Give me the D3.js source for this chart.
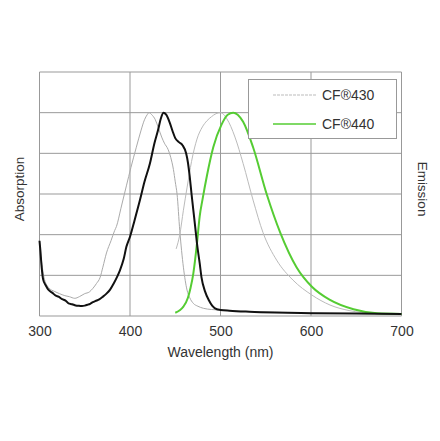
<!DOCTYPE html>
<html><head><meta charset="utf-8">
<script src="https://cdn.jsdelivr.net/npm/d3@7"></script>
<style>body{margin:0;background:#fff}</style>
</head><body>
<svg id="c" width="440" height="441"></svg>
<script>
const xTicks = [300, 400, 500, 600, 700];
const legendLabels = ["CF®430", "CF®440"];

// CF430 absorption (gray)
const abs430X = [300,302,305,310,317,322,328,333,339,344,350,355,359,363,367,370,374,379,383,385,390,396,401,407,412,416,419,421,424,428,431,435,438,442,445,448,450,452,455,459,463,466,470,475,481,490,496,520,560,620,700];
const abs430Y = [0.37,0.28,0.19,0.14,0.12,0.11,0.10,0.095,0.087,0.095,0.11,0.118,0.136,0.16,0.19,0.24,0.31,0.37,0.42,0.44,0.53,0.64,0.73,0.83,0.91,0.965,0.99,1.0,0.99,0.965,0.93,0.88,0.85,0.82,0.78,0.72,0.66,0.60,0.42,0.24,0.128,0.09,0.062,0.048,0.038,0.032,0.03,0.024,0.018,0.013,0.01];
// CF440 absorption (black)
const abs440X = [300,301,302,304,307,310,314,318,321,325,329,332,336,340,344,347,350,353,356,359,362,366,370,374,378,382,386,389,393,396,400,405,411,416,422,427,431,434,437,440,444,447,450,454,458,462,464,466,468,470,472,474,477,479,483,487,491,496,500,510,532,560,600,650,700];
const abs440Y = [0.37,0.32,0.26,0.18,0.15,0.128,0.115,0.10,0.095,0.083,0.075,0.062,0.058,0.052,0.05,0.049,0.051,0.055,0.06,0.068,0.074,0.082,0.095,0.11,0.13,0.16,0.195,0.226,0.28,0.34,0.39,0.47,0.57,0.66,0.75,0.85,0.915,0.97,1.0,0.99,0.95,0.91,0.875,0.855,0.84,0.80,0.755,0.685,0.60,0.52,0.44,0.357,0.26,0.19,0.12,0.079,0.05,0.033,0.03,0.026,0.021,0.017,0.014,0.012,0.01];
// CF430 emission (gray)
const em430X = [451,455,459,463,468,474,480,485,490,495,500,507,516,525,536,547,562,580,601,621,643,669,700];
const em430Y = [0.33,0.40,0.52,0.63,0.76,0.87,0.93,0.96,0.98,0.995,1.0,0.97,0.88,0.75,0.57,0.41,0.275,0.177,0.103,0.054,0.026,0.013,0.006];
// CF440 emission (green)
const em440X = [450,455,459,464,467,470,474,477,480,485,492,501,508,514,519,525,536,551,566,584,601,621,647,673,700];
const em440Y = [0.016,0.028,0.046,0.09,0.14,0.21,0.357,0.49,0.57,0.69,0.83,0.94,0.99,1.0,0.99,0.955,0.83,0.60,0.41,0.24,0.144,0.079,0.033,0.013,0.01];

const svg = d3.select("#c");
const L = 39.5, R = 401.5, T = 72, B = 316;
const FONT = "Arial, Liberation Sans, sans-serif";
const x = d3.scaleLinear().domain([300, 700]).range([L, R]);
const y = d3.scaleLinear().domain([0, 1.2]).range([B, T]);

const grid = svg.append("g");
grid.selectAll("line.v").data(xTicks).enter().append("line")
  .attr("x1", d => x(d)).attr("x2", d => x(d)).attr("y1", T).attr("y2", B)
  .attr("stroke", "#999").attr("stroke-width", 1);
grid.selectAll("line.h").data(d3.range(0, 1.21, 0.2)).enter().append("line")
  .attr("x1", L).attr("x2", R).attr("y1", d => y(d)).attr("y2", d => y(d))
  .attr("stroke", "#999").attr("stroke-width", 1);

const line = d3.line().x(d => x(d[0])).y(d => y(d[1])).curve(d3.curveMonotoneX);
const zip = (a, b) => a.map((v, i) => [v, b[i]]);

svg.append("path").attr("d", line(zip(abs430X, abs430Y))).attr("fill", "none").attr("stroke", "#aaa").attr("stroke-width", 1);
svg.append("path").attr("d", line(zip(em430X, em430Y))).attr("fill", "none").attr("stroke", "#bbb").attr("stroke-width", 1);
svg.append("path").attr("d", line(zip(em440X, em440Y))).attr("fill", "none").attr("stroke", "#55cc33").attr("stroke-width", 2);
svg.append("path").attr("d", line(zip(abs440X, abs440Y))).attr("fill", "none").attr("stroke", "#111").attr("stroke-width", 2);

// axis
const xAxis = d3.axisBottom(x).tickValues(xTicks).tickSize(0).tickPadding(10);
const ax = svg.append("g").attr("transform", `translate(0,${B})`).call(xAxis);
ax.select(".domain").remove();
ax.selectAll("text").attr("font-family", FONT).attr("font-size", 14).attr("fill", "#333");

svg.append("text").attr("x", (L + R) / 2).attr("y", 357).attr("text-anchor", "middle")
  .attr("font-family", FONT).attr("font-size", 14).attr("fill", "#333").text("Wavelength (nm)");
svg.append("text").attr("transform", "translate(24,189) rotate(-90)").attr("text-anchor", "middle")
  .attr("font-family", FONT).attr("font-size", 13.5).attr("fill", "#333").text("Absorption");
svg.append("text").attr("transform", "translate(418,189) rotate(90)").attr("text-anchor", "middle")
  .attr("font-family", FONT).attr("font-size", 13.5).attr("fill", "#333").text("Emission");

// legend
const lg = svg.append("g");
lg.append("rect").attr("x", 248.5).attr("y", 79.5).attr("width", 148).attr("height", 59)
  .attr("fill", "#fff").attr("stroke", "#999").attr("stroke-width", 1);
const lgColors = ["#bbb", "#55cc33"], lgW = [1, 1.5], lgDash = ["3,1", null];
legendLabels.forEach((t, i) => {
  const yy = 95 + i * 29;
  lg.append("line").attr("x1", 273).attr("x2", 316).attr("y1", yy).attr("y2", yy)
    .attr("stroke", lgColors[i]).attr("stroke-width", lgW[i]).attr("stroke-dasharray", lgDash[i]);
  lg.append("text").attr("x", 322).attr("y", yy + 5).attr("font-family", FONT)
    .attr("font-size", 14).attr("fill", "#333").text(t);
});
</script>
</body></html>
